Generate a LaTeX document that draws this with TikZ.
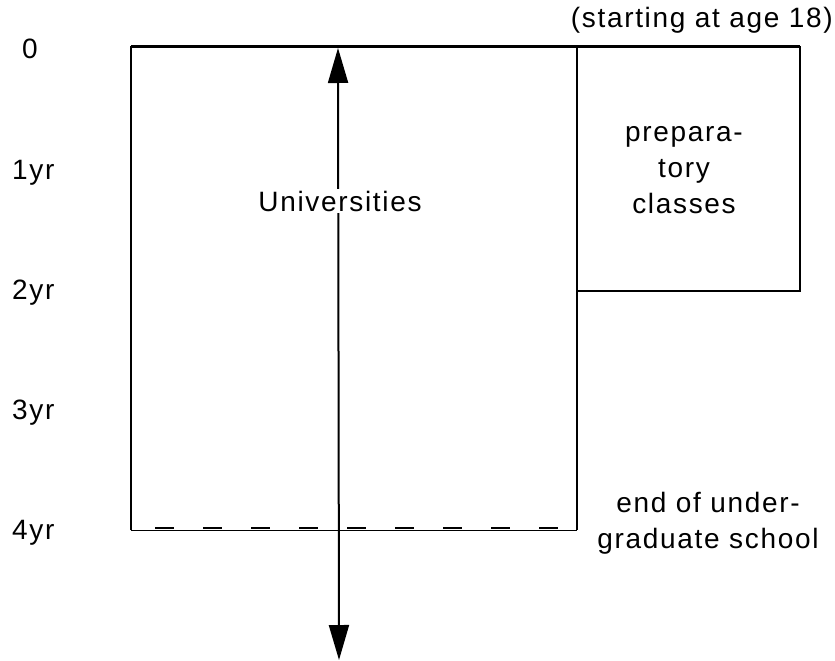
\documentclass[tikz,border=0pt]{standalone}
\usepackage{fontspec}
\setmainfont{Liberation Sans}[LetterSpace=6]
\usetikzlibrary{arrows.meta}
\begin{document}
\begin{tikzpicture}[x=1pt,y=-1pt,
  lbl/.style={font=\fontsize{28}{36}\selectfont, inner sep=0pt},
  frame/.style={line width=2.2pt, line join=miter},
  topline/.style={line width=3pt},
  thinline/.style={line width=1pt},
  dashline/.style={line width=2.5pt, dash pattern=on 19pt off 29pt, dash phase=24pt},
  timearrow/.style={line width=2pt, {Triangle[length=35pt,width=20pt]}-{Triangle[length=35pt,width=20pt]}}]
\useasboundingbox (0,0) rectangle (835,661);
% frame coordinates
\coordinate (uTL) at (131,47);
\coordinate (uBL) at (131,530);
\coordinate (uBR) at (577,530);
\coordinate (uTR) at (577,47);
\coordinate (pTR) at (800,47);
\coordinate (pBR) at (800,291);
\coordinate (pBL) at (577,291);
\coordinate (dL) at (131,528);
\coordinate (dR) at (577,528);
\coordinate (aTop) at (338,48);
\coordinate (aBot) at (339,660);
% boxes
\draw[frame] (uBL) -- (uTL) -- (pTR) -- (pBR) -- (pBL);
\draw[frame] (uTR) -- (uBR);
\draw[topline] (uTL) -- (pTR);
\draw[thinline] (uBL) -- (uBR);
\draw[dashline] (dL) -- (dR);
% time arrow
\draw[timearrow] (aBot) -- (aTop);
% labels
\node[lbl, anchor=base west] (t0) at (22,59) {0};
\node[lbl, anchor=base west] (t1) at (12,179) {1yr};
\node[lbl, anchor=base west] (t2) at (12,299) {2yr};
\node[lbl, anchor=base west] (t3) at (12,419) {3yr};
\node[lbl, anchor=base west] (t4) at (12,539) {4yr};
\node[lbl, anchor=base, fill=white, inner sep=2pt] (univ) at (340,211) {Universities};
\node[lbl, anchor=base, align=center] (prep) at (684,213) {prepara-\\tory\\classes};
\node[lbl, anchor=base, align=center] (endug) at (708,548) {end of under-\\graduate school};
\node[lbl, anchor=base east] (start) at (833,28) {(starting at age 18)};
\end{tikzpicture}
\end{document}
